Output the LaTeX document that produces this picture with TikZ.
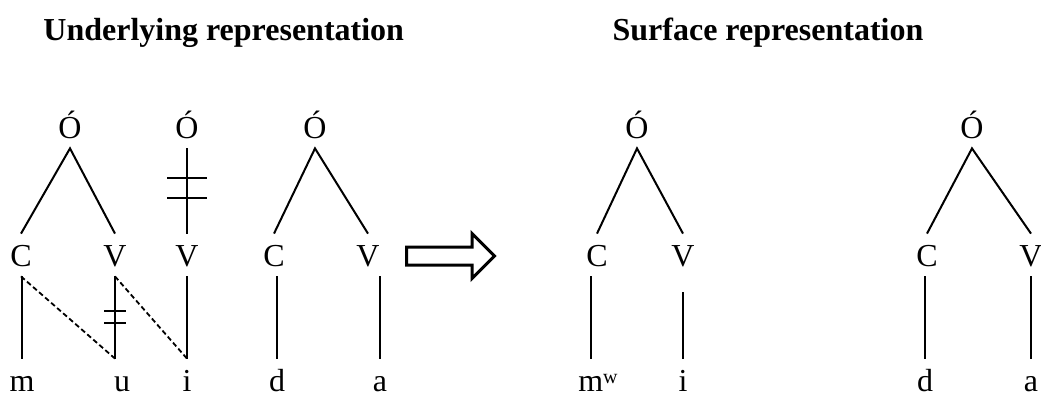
\documentclass[tikz,border=0pt]{standalone}
\usepackage{fontspec}
\setmainfont{Liberation Serif}
\usetikzlibrary{calc,shapes.arrows}
\tikzset{
  seg/.style={anchor=base,inner sep=5pt,text height=11pt,text depth=0pt,
    font=\fontsize{16}{19}\selectfont},
  ttl/.style={anchor=base,inner sep=0pt,font=\fontsize{16}{19}\selectfont\bfseries},
  assoc/.style={line width=1pt},
  spread/.style={line width=0.9pt,dash pattern=on 2.5pt off 1.5pt},
  cut/.style={line width=1pt},
  derive/.style={single arrow,draw,line width=1.5pt,inner sep=3.75pt,
    minimum height=44pt,single arrow head extend=6.75pt},
}

\begin{document}
\begin{tikzpicture}[x=0.5pt,y=-0.5pt]
\useasboundingbox (0,0) rectangle (1041,398);

\node[ttl,anchor=base west] (ttlU) at (43,40) {Underlying representation};
\node[ttl] (ttlS) at (768,40) {Surface representation};

% underlying form
\node[seg] (o1) at (70,138) {Ó};
\node[seg] (o2) at (187,138) {Ó};
\node[seg] (o3) at (315,138) {Ó};
\node[seg] (c1) at (21,266) {C};
\node[seg] (v1) at (115,266) {V};
\node[seg] (v2) at (187,266) {V};
\node[seg] (c3) at (274,266) {C};
\node[seg] (v3) at (368,266) {V};
\node[seg] (m1) at (22,391) {m};
\node[seg] (u1) at (122,391) {u};
\node[seg] (i1) at (187,391) {i};
\node[seg] (d3) at (277,391) {d};
\node[seg] (a3) at (380,391) {a};

\draw[assoc] (c1.north) -- (o1.south) -- (v1.north);
\draw[assoc] (c3.north) -- (o3.south) -- (v3.north);
\draw[assoc] (o2.south) -- (v2.north);
\draw[assoc] (c1.south -| m1) -- (m1.north);
\draw[assoc] (v1.south) -- (v1.south |- u1.north);
\draw[assoc] (v2.south) -- (i1.north);
\draw[assoc] (c3.south -| d3) -- (d3.north);
\draw[assoc] (v3.south -| a3) -- (a3.north);
\draw[spread] (c1.south) -- (v1.south |- u1.north);
\draw[spread] (v1.south) -- (v2.south |- i1.north);
\foreach \f in {0.35,0.58}
  \draw[cut] ($(o2.south)!\f!(v2.north)+(-20,0)$) -- ++(40,0);
\foreach \f in {0.42,0.57}
  \draw[cut] ($(v1.south)!\f!(v1.south |- u1.north)+(-11,0)$) -- ++(22,0);

\node[derive] (rewrite) at (446,256) {};

% surface form
\node[seg] (o4) at (637,138) {Ó};
\node[seg] (c4) at (597,266) {C};
\node[seg] (v4) at (683,266) {V};
\node[seg] (m4) at (598,391) {m\raisebox{0.5ex}{\fontsize{10}{12}\selectfont w}};
\node[seg] (i4) at (683,391) {i};
\node[seg] (o5) at (972,138) {Ó};
\node[seg] (c5) at (927,266) {C};
\node[seg] (v5) at (1031,266) {V};
\node[seg] (d5) at (925,391) {d};
\node[seg] (a5) at (1031,391) {a};

\draw[assoc] (c4.north) -- (o4.south) -- (v4.north);
\draw[assoc] (c5.north) -- (o5.south) -- (v5.north);
\draw[assoc] ([xshift=-3pt]c4.south) -- ([xshift=-3pt]c4.south |- m4.north);
\draw[assoc,shorten <=8pt] (v4.south) -- (i4.north);
\draw[assoc] (c5.south -| d5) -- (d5.north);
\draw[assoc] (v5.south) -- (a5.north);
\end{tikzpicture}
\end{document}
